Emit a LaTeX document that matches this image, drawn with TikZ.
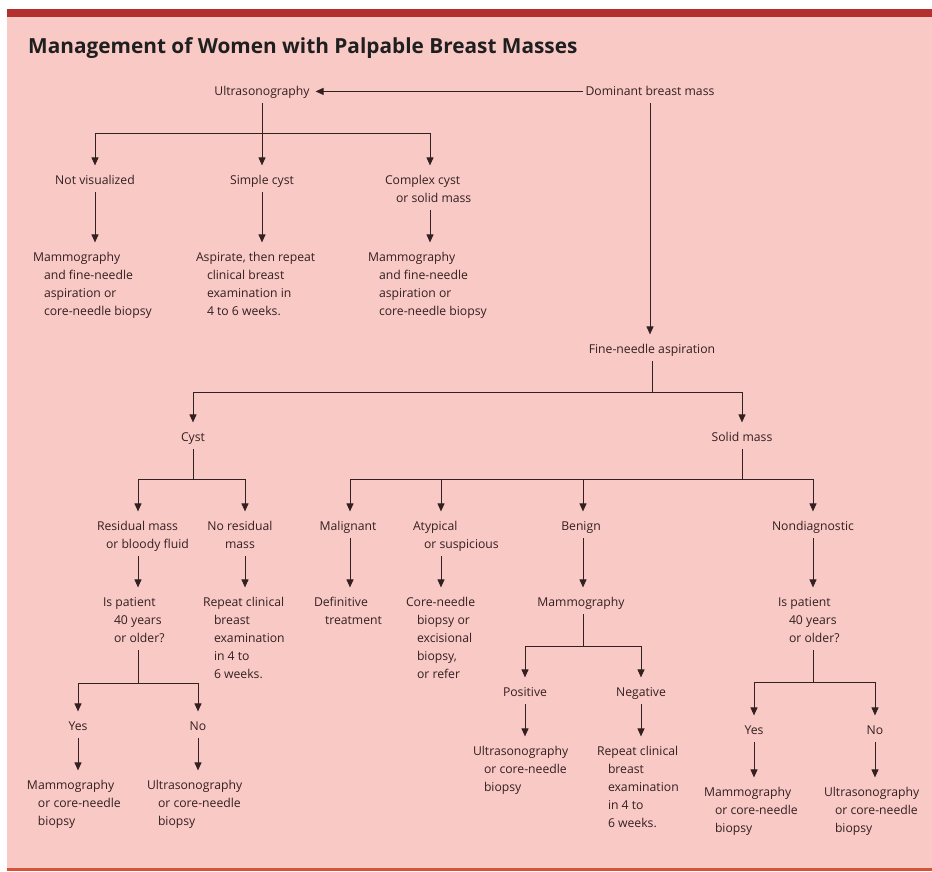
\documentclass[tikz,border=0pt]{standalone}
\usepackage{fontspec}
\setmainfont{Open Sans}
\usetikzlibrary{arrows.meta}
\definecolor{bg}{HTML}{F9C9C6}
\definecolor{barc}{HTML}{B3302F}
\definecolor{ink}{HTML}{332020}
\definecolor{botline}{HTML}{D8523A}
\newcommand{\hind}{\hspace*{11pt}}
\begin{document}
\begin{tikzpicture}[x=1pt,y=-1pt,
  txt/.style={inner sep=0pt, outer sep=3pt, text=ink, font=\fontsize{12.2}{18}\selectfont},
  lft/.style={txt, align=left, anchor=north west},
  ctr/.style={txt, align=center, anchor=north},
  ln/.style={draw=ink, line width=1pt},
  arr/.style={ln, -{Triangle[length=8pt,width=7pt]}, shorten >=3pt}]
\useasboundingbox (0,0) rectangle (932,871);
\fill[white] (0,0) rectangle (932,871);
\fill[bg] (7,17) rectangle (932,868);
\fill[barc] (7,9) rectangle (932,17);
\fill[botline] (7,868) rectangle (932,871);

\node[anchor=base west, inner sep=0pt, font=\fontsize{20.8}{24}\selectfont\bfseries, text=black!88] (title) at (28,53) {Management of Women with Palpable Breast Masses};

% single-line nodes
\node[ctr] (us) at (262,79.4) {\strut Ultrasonography\strut};
\node[ctr] (dom) at (650,79.4) {\strut Dominant breast mass\strut};
\node[ctr] (nv) at (95,168.4) {\strut Not visualized\strut};
\node[ctr] (sc) at (262,168.4) {\strut Simple cyst\strut};
\node[ctr] (fna) at (652,337.4) {\strut Fine-needle aspiration\strut};
\node[ctr] (cyst) at (193,425.4) {\strut Cyst\strut};
\node[ctr] (sm) at (742,425.4) {\strut Solid mass\strut};
\node[ctr] (mal) at (348,514.4) {\strut Malignant\strut};
\node[ctr] (ben) at (581,514.4) {\strut Benign\strut};
\node[ctr] (nond) at (813,514.4) {\strut Nondiagnostic\strut};
\node[ctr] (mam) at (581,590.4) {\strut Mammography\strut};
\node[ctr] (pos) at (525,680.4) {\strut Positive\strut};
\node[ctr] (neg) at (641,680.4) {\strut Negative\strut};
\node[ctr] (yes1) at (78,714.4) {\strut Yes\strut};
\node[ctr] (no1) at (198,714.4) {\strut No\strut};
\node[ctr] (yes2) at (754,718.4) {\strut Yes\strut};
\node[ctr] (no2) at (875,718.4) {\strut No\strut};
\node[ctr] (nrm) at (240,514.4) {\strut No residual\\mass\strut};

% multi-line nodes
\node[lft] (cc) at (382,168.4) {\strut Complex cyst\\\hind or solid mass\strut};
\node[lft] (m1) at (30,245.4) {\strut Mammography\\\hind and fine-needle\\\hind aspiration or\\\hind core-needle biopsy\strut};
\node[lft] (asp) at (193,245.4) {\strut Aspirate, then repeat\\\hind clinical breast\\\hind examination in\\\hind 4 to 6 weeks.\strut};
\node[lft] (m2) at (365,245.4) {\strut Mammography\\\hind and fine-needle\\\hind aspiration or\\\hind core-needle biopsy\strut};
\node[lft] (rm) at (94,514.4) {\strut Residual mass\\\hspace*{9pt}or bloody fluid\strut};
\node[lft] (ip1) at (100,590.4) {\strut Is patient\\\hind 40 years\\\hind or older?\strut};
\node[lft] (rcb1) at (200,590.4) {\strut Repeat clinical\\\hind breast\\\hind examination\\\hind in 4 to\\\hind 6 weeks.\strut};
\node[lft] (def) at (311,590.4) {\strut Definitive\\\hind treatment\strut};
\node[lft] (atyp) at (410,514.4) {\strut Atypical\\\hind or suspicious\strut};
\node[lft] (core) at (403,590.4) {\strut Core-needle\\\hind biopsy or\\\hind excisional\\\hind biopsy,\\\hind or refer\strut};
\node[lft] (ip2) at (775,590.4) {\strut Is patient\\\hind 40 years\\\hind or older?\strut};
\node[lft] (ym1) at (24,773.4) {\strut Mammography\\\hind or core-needle\\\hind biopsy\strut};
\node[lft] (un1) at (144,773.4) {\strut Ultrasonography\\\hind or core-needle\\\hind biopsy\strut};
\node[lft] (un2) at (470,739.4) {\strut Ultrasonography\\\hind or core-needle\\\hind biopsy\strut};
\node[lft] (rcb2) at (594,739.4) {\strut Repeat clinical\\\hind breast\\\hind examination\\\hind in 4 to\\\hind 6 weeks.\strut};
\node[lft] (ym2) at (701,780.4) {\strut Mammography\\\hind or core-needle\\\hind biopsy\strut};
\node[lft] (un3) at (821,780.4) {\strut Ultrasonography\\\hind or core-needle\\\hind biopsy\strut};

% branch coordinates
\coordinate (h1l) at (95,133);
\coordinate (h1r) at (430,133);
\coordinate (h2l) at (193,392);
\coordinate (h2r) at (742,392);
\coordinate (h3l) at (138,479);
\coordinate (h3r) at (245,479);
\coordinate (h4) at (138,683);
\coordinate (h4l) at (78,683);
\coordinate (h4r) at (198,683);
\coordinate (h5l) at (350,479);
\coordinate (h5a) at (441,479);
\coordinate (h5b) at (583,479);
\coordinate (h5r) at (813,479);
\coordinate (h6) at (583,646);
\coordinate (h6l) at (525,646);
\coordinate (h6r) at (641,646);
\coordinate (h7) at (813,682);
\coordinate (h7l) at (754,682);
\coordinate (h7r) at (875,682);

% top section
\draw[arr] (dom.west) -- (us.east);
\draw[ln] (us.south) -- (us.south |- h1l);
\draw[ln] (h1l) -- (h1r);
\draw[arr] (h1l) -- (nv.north);
\draw[arr] (us.south |- h1l) -- (sc.north);
\draw[arr] (h1r) -- (h1r |- cc.north);
\draw[arr] (nv.south) -- (nv.south |- m1.north);
\draw[arr] (sc.south) -- (sc.south |- asp.north);
\draw[arr] (h1r |- cc.south) -- (h1r |- m2.north);
\draw[arr] (dom.south) -- (dom.south |- fna.north);

% fine-needle aspiration
\draw[ln] (fna.south) -- (fna.south |- h2l);
\draw[ln] (h2l) -- (h2r);
\draw[arr] (h2l) -- (cyst.north);
\draw[arr] (h2r) -- (sm.north);

% cyst branch
\draw[ln] (cyst.south) -- (cyst.south |- h3l);
\draw[ln] (h3l) -- (h3r);
\draw[arr] (h3l) -- (h3l |- rm.north);
\draw[arr] (h3r) -- (h3r |- nrm.north);
\draw[arr] (h3l |- rm.south) -- (h3l |- ip1.north);
\draw[arr] (h3r |- nrm.south) -- (h3r |- rcb1.north);
\draw[ln] (h3l |- ip1.south) -- (h4);
\draw[ln] (h4l) -- (h4r);
\draw[arr] (h4l) -- (yes1.north);
\draw[arr] (h4r) -- (no1.north);
\draw[arr] (yes1.south) -- (yes1.south |- ym1.north);
\draw[arr] (no1.south) -- (no1.south |- un1.north);

% solid mass branch
\draw[ln] (sm.south) -- (sm.south |- h5l);
\draw[ln] (h5l) -- (h5r);
\draw[arr] (h5l) -- (h5l |- mal.north);
\draw[arr] (h5a) -- (h5a |- atyp.north);
\draw[arr] (h5b) -- (h5b |- ben.north);
\draw[arr] (h5r) -- (nond.north);
\draw[arr] (h5l |- mal.south) -- (h5l |- def.north);
\draw[arr] (h5a |- atyp.south) -- (h5a |- core.north);
\draw[arr] (h5b |- ben.south) -- (h5b |- mam.north);
\draw[arr] (nond.south) -- (nond.south |- ip2.north);
\draw[ln] (h6 |- mam.south) -- (h6);
\draw[ln] (h6l) -- (h6r);
\draw[arr] (h6l) -- (pos.north);
\draw[arr] (h6r) -- (neg.north);
\draw[arr] (pos.south) -- (pos.south |- un2.north);
\draw[arr] (neg.south) -- (neg.south |- rcb2.north);
\draw[ln] (h7 |- ip2.south) -- (h7);
\draw[ln] (h7l) -- (h7r);
\draw[arr] (h7l) -- (yes2.north);
\draw[arr] (h7r) -- (no2.north);
\draw[arr] (yes2.south) -- (yes2.south |- ym2.north);
\draw[arr] (no2.south) -- (no2.south |- un3.north);
\end{tikzpicture}
\end{document}
